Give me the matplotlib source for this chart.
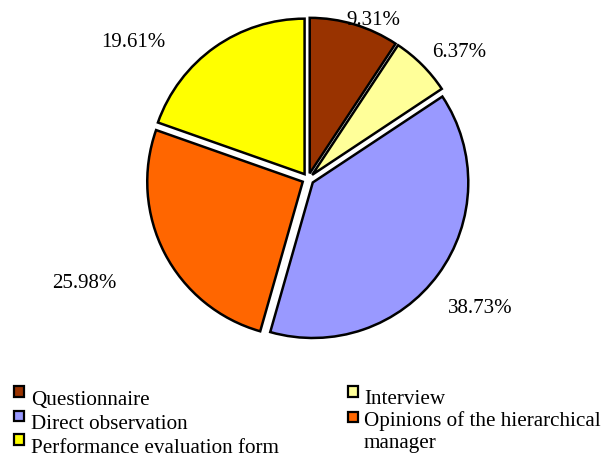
import matplotlib
matplotlib.use("Agg")
import matplotlib.pyplot as plt
import numpy as np
from matplotlib.patches import Rectangle

categories = ["Questionnaire", "Interview", "Direct observation",
              "Opinions of the hierarchical\nmanager", "Performance evaluation form"]
values = [9.31, 6.37, 38.73, 25.98, 19.61]
colors = ["#993300", "#FFFF99", "#9999FF", "#FF6600", "#FFFF00"]

plt.rcParams['font.family'] = ['Liberation Serif', 'DejaVu Serif']

W, H = 604, 457
fig = plt.figure(figsize=(W / 100, H / 100), dpi=100)
R = 155.5
ax_w = 2.2 * R / W
ax_h = 2.2 * R / H
cx, cy = 308 / W, (H - 179) / H
ax = fig.add_axes([cx - ax_w / 2, cy - ax_h / 2, ax_w, ax_h])

wedges, _ = ax.pie(values, colors=colors, startangle=90, counterclock=False,
                   explode=[0.038] * len(values),
                   wedgeprops=dict(edgecolor="black", linewidth=1.8))
ax.set_xlim(-1.1, 1.1)
ax.set_ylim(-1.1, 1.1)
ax.set_aspect('equal')
ax.axis('off')

# label placement (radius and angle offset per label)
lab_r = [1.076, 1.248, 1.402, 1.599, 1.407]
lab_da = [-6.2, -6.1, -1.7, -1.4, 17.6]
for w, v, r, da in zip(wedges, values, lab_r, lab_da):
    mid = np.deg2rad((w.theta1 + w.theta2) / 2 + da)
    ax.text(r * np.cos(mid), r * np.sin(mid), f"{v:.2f}%", ha='center', va='baseline',
            fontsize=15, clip_on=False)

# manual legend: two columns
order = [0, 2, 4, 1, 3]
mark_x = [13.5, 347.5]
text_x = [31, 364]
mark_top = [[386, 410.5, 434], [386, 411.5]]
base = [[405, 429, 453], [404, 426]]
line_gap = 22
slots = [(0, 0), (0, 1), (0, 2), (1, 0), (1, 1)]
for i, (c, r) in zip(order, slots):
    top = mark_top[c][r]
    fig.add_artist(Rectangle((mark_x[c] / W, 1 - (top + 10.5) / H), 10.5 / W, 10.5 / H,
                             transform=fig.transFigure, facecolor=colors[i],
                             edgecolor='black', linewidth=1.6))
    for k, line in enumerate(categories[i].split("\n")):
        fig.text(text_x[c] / W, 1 - (base[c][r] + k * line_gap) / H, line,
                 ha='left', va='baseline', fontsize=15.2)

fig.savefig("out.png", dpi=100)
